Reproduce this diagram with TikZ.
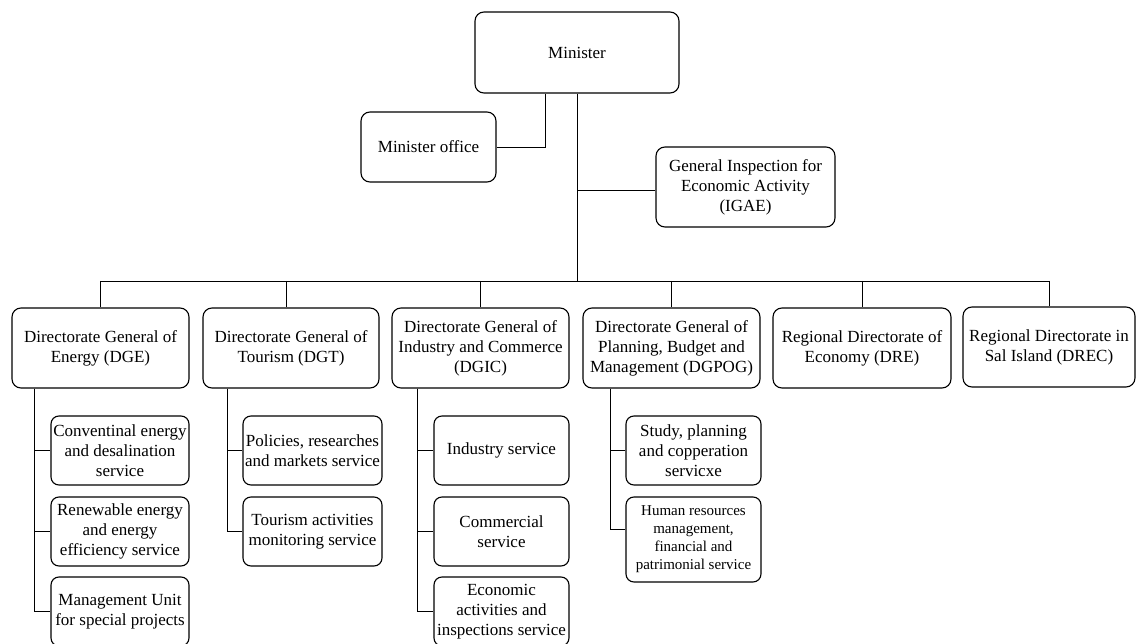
\documentclass[tikz,border=0pt]{standalone}
\usepackage{fontspec}
\setmainfont{Liberation Serif}
\begin{document}
\begin{tikzpicture}[x=1pt,y=-1pt,
  unit/.style={draw, line width=1.1pt, rounded corners=9pt, align=center,
    inner sep=0pt, font=\fontsize{17}{20}\selectfont},
  svc/.style={unit, rounded corners=8pt},
  link/.style={draw, line width=0.9pt}]
\useasboundingbox (0,0) rectangle (1136,644);

% top level
\node[unit, minimum width=204pt, minimum height=81pt] (min) at (577,52.5) {Minister};
\node[unit, minimum width=135pt, minimum height=70pt] (office) at (428.5,147) {Minister office};
\node[unit, minimum width=179pt, minimum height=80pt] (igae) at (745.5,187) {General Inspection for\\Economic Activity\\(IGAE)};

% directorates
\node[unit, minimum width=177pt, minimum height=80pt] (dge) at (100.5,348) {Directorate General of\\Energy (DGE)};
\node[unit, minimum width=176pt, minimum height=80pt] (dgt) at (291,348) {Directorate General of\\Tourism (DGT)};
\node[unit, minimum width=177pt, minimum height=80pt] (dgic) at (480.5,348) {Directorate General of\\Industry and Commerce\\(DGIC)};
\node[unit, minimum width=177pt, minimum height=80pt] (dgpog) at (671.5,348) {Directorate General of\\Planning, Budget and\\Management (DGPOG)};
\node[unit, minimum width=178pt, minimum height=80pt] (dre) at (862,348) {Regional Directorate of\\Economy (DRE)};
\node[unit, minimum width=172pt, minimum height=80pt] (drec) at (1049,347) {Regional Directorate in\\Sal Island (DREC)};

% services of DGE
\node[svc, minimum width=138pt, minimum height=69pt] (e1) at (120,450.5) {Conventinal energy\\and desalination\\service};
\node[svc, minimum width=138pt, minimum height=69pt] (e2) at (120,531.5) {Renewable energy\\and energy\\efficiency service};
\node[svc, minimum width=138pt, minimum height=69pt] (e3) at (120,611.5) {Management Unit\\for special projects};

% services of DGT
\node[svc, minimum width=139pt, minimum height=69pt] (t1) at (312.5,450.5) {Policies, researches\\and markets service};
\node[svc, minimum width=139pt, minimum height=69pt] (t2) at (312.5,531.5) {Tourism activities\\monitoring service};

% services of DGIC
\node[svc, minimum width=135pt, minimum height=69pt] (i1) at (501.5,450.5) {Industry service};
\node[svc, minimum width=135pt, minimum height=69pt] (i2) at (501.5,531.5) {Commercial\\service};
\node[svc, minimum width=135pt, minimum height=69pt] (i3) at (501.5,611.5) {Economic\\activities and\\inspections service};

% services of DGPOG
\node[svc, minimum width=135pt, minimum height=69pt] (p1) at (693.5,450.5) {Study, planning\\and copperation\\servicxe};
\node[svc, minimum width=135pt, minimum height=85pt, font=\fontsize{15}{18}\selectfont] (p2) at (693.5,539.5) {Human resources\\management,\\financial and\\patrimonial service};

% connectors
\coordinate (bus) at (577,281);
\draw[link] ([xshift=-32pt]min.south) |- (office.east);
\draw[link] (min.south) -- (bus);
\draw[link] (min.south |- igae.west) ++(0,3) -- ([yshift=-3pt]igae.west);
\draw[link] (dge.north |- bus) -- (drec.north |- bus);
\foreach \d in {dge,dgic,dgpog,dre,drec}
  \draw[link] (\d.north |- bus) -- (\d.north);
\draw[link] ([xshift=-5pt]dgt.north |- bus) -- ([xshift=-5pt]dgt.north);

\draw[link] ([xshift=23pt]dge.south west) |- (e1.west);
\draw[link] ([xshift=23pt]dge.south west) |- (e2.west);
\draw[link] ([xshift=23pt]dge.south west) |- (e3.west);
\draw[link] ([xshift=25pt]dgt.south west) |- (t1.west);
\draw[link] ([xshift=25pt]dgt.south west) |- (t2.west);
\draw[link] ([xshift=26pt]dgic.south west) |- (i1.west);
\draw[link] ([xshift=26pt]dgic.south west) |- (i2.west);
\draw[link] ([xshift=26pt]dgic.south west) |- (i3.west);
\draw[link] ([xshift=28pt]dgpog.south west) |- (p1.west);
\draw[link] ([xshift=28pt]dgpog.south west) |- ([yshift=10pt]p2.west);
\end{tikzpicture}
\end{document}
